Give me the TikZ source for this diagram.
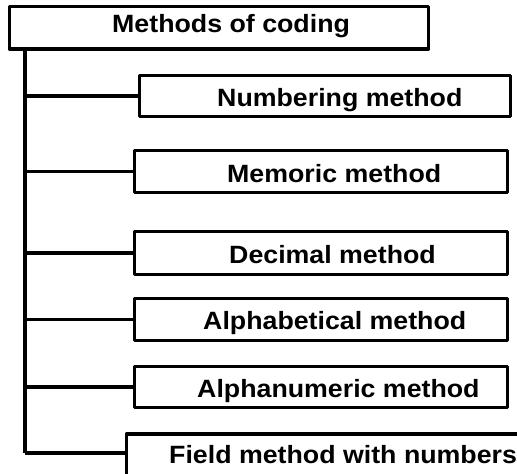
\documentclass[tikz,border=0pt]{standalone}
\usepackage{fontspec}
\newfontfamily\labfont[FakeStretch=1.07]{Liberation Sans}
\begin{document}
\begin{tikzpicture}[x=1pt,y=-1pt,
  box/.style={draw=black, line width=3.4pt, fill=white, inner sep=0pt, rectangle, line join=round},
  lab/.style={font=\labfont\bfseries\fontsize{25}{30}\selectfont, inner sep=0pt, anchor=base west},
  trunkline/.style={line width=4.5pt},
  branch/.style={line width=3.4pt}]
\useasboundingbox (0,0) rectangle (517,474);
\clip (0,0) rectangle (517,474);
% boxes
\node[box, minimum width=419pt, minimum height=42.5pt] (title) at (219,27.75) {};
\node[box, minimum width=371pt, minimum height=41pt] (n1) at (325,96) {};
\node[box, minimum width=373pt, minimum height=42pt] (n2) at (321,171.5) {};
\node[box, minimum width=373pt, minimum height=43pt] (n3) at (321,253) {};
\node[box, minimum width=373pt, minimum height=42pt] (n4) at (321,319.5) {};
\node[box, minimum width=373pt, minimum height=41pt] (n5) at (321,387) {};
\node[box, minimum width=420pt, minimum height=80pt] (n6) at (336.5,474) {};
% texts
\node[lab] (t0) at (112,32) {Methods of coding};
\node[lab] (t1) at (217,106) {Numbering method};
\node[lab] (t2) at (227,182) {Memoric method};
\node[lab] (t3) at (229,263) {Decimal method};
\node[lab] (t4) at (203,329) {Alphabetical method};
\node[lab] (t5) at (197,397) {Alphanumeric method};
\node[lab] (t6) at (169,463) {Field method with numbers};
% trunk
\coordinate (top) at (25,49);
\coordinate (bot) at (25,453);
\draw[trunkline] (top) -- (bot);
% branches
\draw[branch] (n1.west -| top) -- (n1.west);
\draw[branch] (n2.west -| top) -- (n2.west);
\draw[branch] (n3.west -| top) -- (n3.west);
\draw[branch] (n4.west -| top) -- (n4.west);
\draw[branch] (n5.west -| top) -- (n5.west);
\draw[branch] (bot) -- (bot -| n6.west);
\end{tikzpicture}
\end{document}
